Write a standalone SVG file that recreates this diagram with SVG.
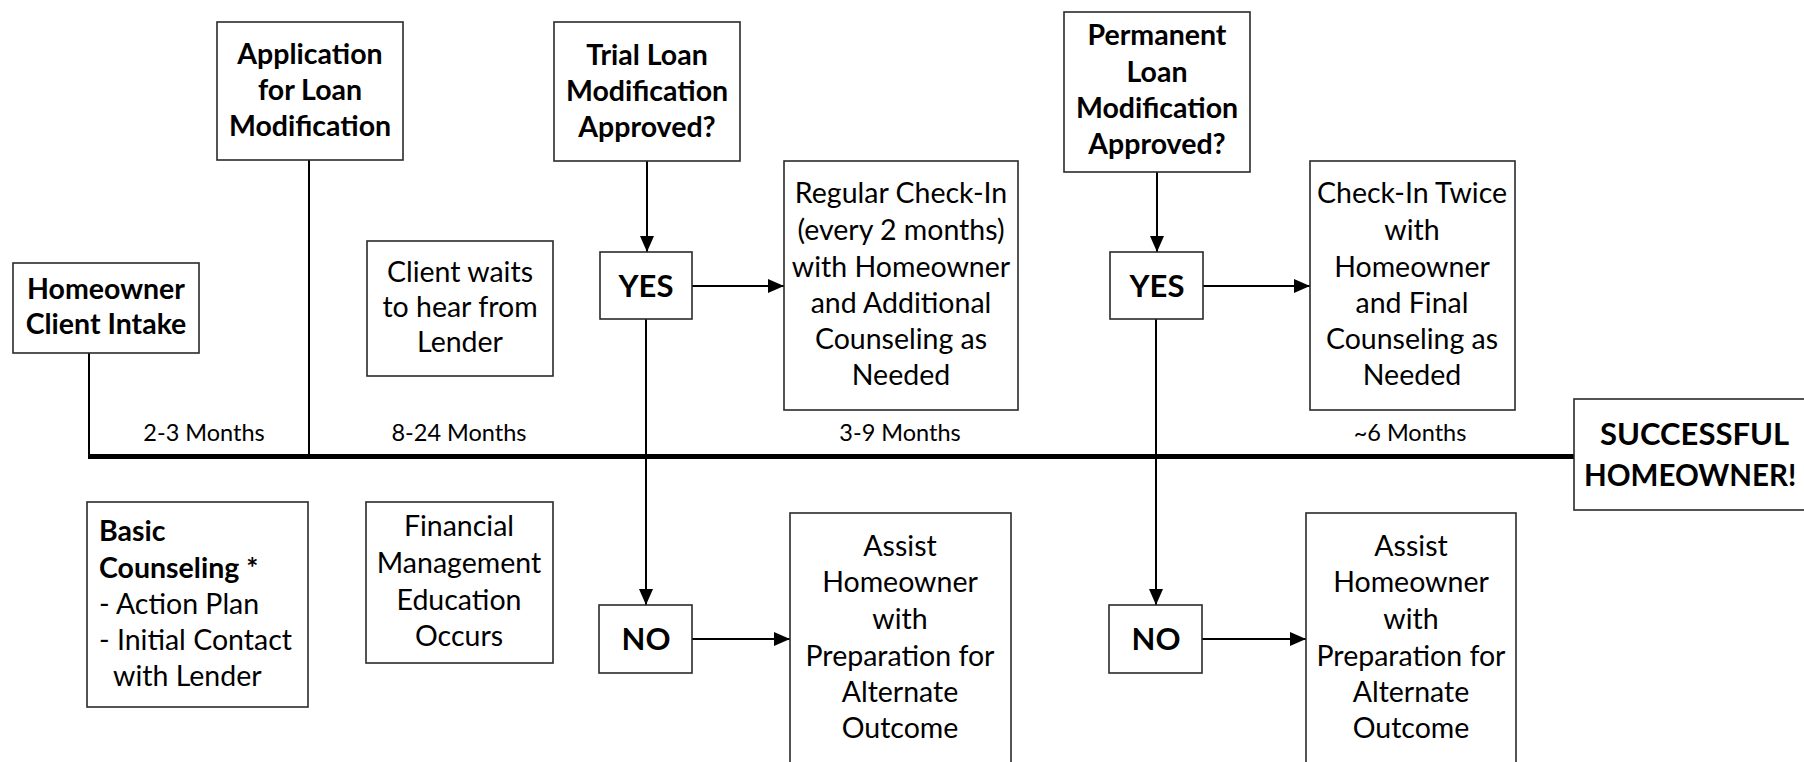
<svg xmlns="http://www.w3.org/2000/svg" width="1804" height="762" viewBox="0 0 1804 762">
<defs>
<style>
.box{fill:#fff;stroke:#2a2a2a;stroke-width:1.6}
text{font-family:Lato,"Open Sans","Liberation Sans",sans-serif;fill:#000}
.t{font-size:28.5px;text-anchor:middle}
.b{font-weight:bold}
.yn{font-size:31px;font-weight:bold;text-anchor:middle}
.lbl{font-size:23.5px;text-anchor:middle}
.big{font-weight:bold}
.l{font-size:28.5px}
.c{fill:none;stroke:#000;stroke-width:2}
.tl{fill:none;stroke:#000;stroke-width:5}
</style>
<marker id="ah" markerUnits="userSpaceOnUse" markerWidth="16" markerHeight="14" refX="16" refY="7" orient="auto">
<path d="M0,0 L16,7 L0,14 Z" fill="#000"/>
</marker>
</defs>
<rect width="1804" height="762" fill="#fff"/>

<g id="connectors">
<line class="tl" x1="88" y1="456.5" x2="1574" y2="456.5"/>
<line class="c" x1="89" y1="353" x2="89" y2="456"/>
<line class="c" x1="309" y1="160" x2="309" y2="456"/>
<line class="c" x1="647" y1="161" x2="647" y2="252" marker-end="url(#ah)"/>
<line class="c" x1="646" y1="319" x2="646" y2="605" marker-end="url(#ah)"/>
<line class="c" x1="692" y1="286" x2="784" y2="286" marker-end="url(#ah)"/>
<line class="c" x1="692" y1="639" x2="790" y2="639" marker-end="url(#ah)"/>
<line class="c" x1="1157" y1="172" x2="1157" y2="252" marker-end="url(#ah)"/>
<line class="c" x1="1156" y1="319" x2="1156" y2="605" marker-end="url(#ah)"/>
<line class="c" x1="1203" y1="286" x2="1310" y2="286" marker-end="url(#ah)"/>
<line class="c" x1="1202" y1="639" x2="1306" y2="639" marker-end="url(#ah)"/>
</g>

<g id="labels">
<text class="lbl" x="204" y="441">2-3 Months</text>
<text class="lbl" x="459" y="441">8-24 Months</text>
<text class="lbl" x="900" y="441">3-9 Months</text>
<text class="lbl" x="1410" y="441">~6 Months</text>
</g>

<g id="application">
<rect class="box" x="217" y="22" width="186" height="138"/>
<text class="t b" x="310" y="64">Application</text>
<text class="t b" x="310" y="100">for Loan</text>
<text class="t b" x="310" y="136">Modification</text>
</g>

<g id="trial">
<rect class="box" x="554" y="22" width="186" height="139"/>
<text class="t b" x="647" y="65">Trial Loan</text>
<text class="t b" x="647" y="101">Modification</text>
<text class="t b" x="647" y="137">Approved?</text>
</g>

<g id="permanent">
<rect class="box" x="1064" y="12" width="186" height="160"/>
<text class="t b" x="1157" y="45">Permanent</text>
<text class="t b" x="1157" y="82">Loan</text>
<text class="t b" x="1157" y="118">Modification</text>
<text class="t b" x="1157" y="154">Approved?</text>
</g>

<g id="intake">
<rect class="box" x="13" y="263" width="186" height="90"/>
<text class="t b" x="106" y="299">Homeowner</text>
<text class="t b" x="106" y="334">Client Intake</text>
</g>

<g id="waits">
<rect class="box" x="367" y="241" width="186" height="135"/>
<text class="t" x="460" y="282">Client waits</text>
<text class="t" x="460" y="317">to hear from</text>
<text class="t" x="460" y="352">Lender</text>
</g>

<g id="yes1">
<rect class="box" x="600" y="252" width="92" height="67"/>
<text class="yn" x="646" y="297">YES</text>
</g>

<g id="regular">
<rect class="box" x="784" y="161" width="234" height="249"/>
<text class="t" x="901" y="203">Regular Check-In</text>
<text class="t" x="901" y="240">(every 2 months)</text>
<text class="t" x="901" y="277">with Homeowner</text>
<text class="t" x="901" y="313">and Additional</text>
<text class="t" x="901" y="349">Counseling as</text>
<text class="t" x="901" y="385">Needed</text>
</g>

<g id="yes2">
<rect class="box" x="1110" y="252" width="93" height="67"/>
<text class="yn" x="1157" y="297">YES</text>
</g>

<g id="checkin">
<rect class="box" x="1310" y="161" width="205" height="249"/>
<text class="t" x="1412" y="203">Check-In Twice</text>
<text class="t" x="1412" y="240">with</text>
<text class="t" x="1412" y="277">Homeowner</text>
<text class="t" x="1412" y="313">and Final</text>
<text class="t" x="1412" y="349">Counseling as</text>
<text class="t" x="1412" y="385">Needed</text>
</g>

<g id="successful">
<rect class="box" x="1574" y="399" width="260" height="111"/>
<text class="big" x="1600" y="445" font-size="31">SUCCESSFUL</text>
<text class="big" x="1584" y="486" font-size="29.5">HOMEOWNER!</text>
</g>

<g id="basic">
<rect class="box" x="87" y="502" width="221" height="205"/>
<text class="l b" x="99" y="541">Basic</text>
<text class="l b" x="99" y="578">Counseling *</text>
<text class="l" x="99" y="614">- Action Plan</text>
<text class="l" x="99" y="650">- Initial Contact</text>
<text class="l" x="113" y="686">with Lender</text>
</g>

<g id="financial">
<rect class="box" x="366" y="502" width="187" height="161"/>
<text class="t" x="459" y="536">Financial</text>
<text class="t" x="459" y="573">Management</text>
<text class="t" x="459" y="610">Education</text>
<text class="t" x="459" y="646">Occurs</text>
</g>

<g id="no1">
<rect class="box" x="599" y="605" width="93" height="68"/>
<text class="yn" x="646" y="650">NO</text>
</g>

<g id="assist1">
<rect class="box" x="790" y="513" width="221" height="300"/>
<text class="t" x="900" y="556">Assist</text>
<text class="t" x="900" y="592">Homeowner</text>
<text class="t" x="900" y="629">with</text>
<text class="t" x="900" y="666">Preparation for</text>
<text class="t" x="900" y="702">Alternate</text>
<text class="t" x="900" y="738">Outcome</text>
</g>

<g id="no2">
<rect class="box" x="1109" y="605" width="93" height="68"/>
<text class="yn" x="1156" y="650">NO</text>
</g>

<g id="assist2">
<rect class="box" x="1306" y="513" width="210" height="300"/>
<text class="t" x="1411" y="556">Assist</text>
<text class="t" x="1411" y="592">Homeowner</text>
<text class="t" x="1411" y="629">with</text>
<text class="t" x="1411" y="666">Preparation for</text>
<text class="t" x="1411" y="702">Alternate</text>
<text class="t" x="1411" y="738">Outcome</text>
</g>
</svg>
